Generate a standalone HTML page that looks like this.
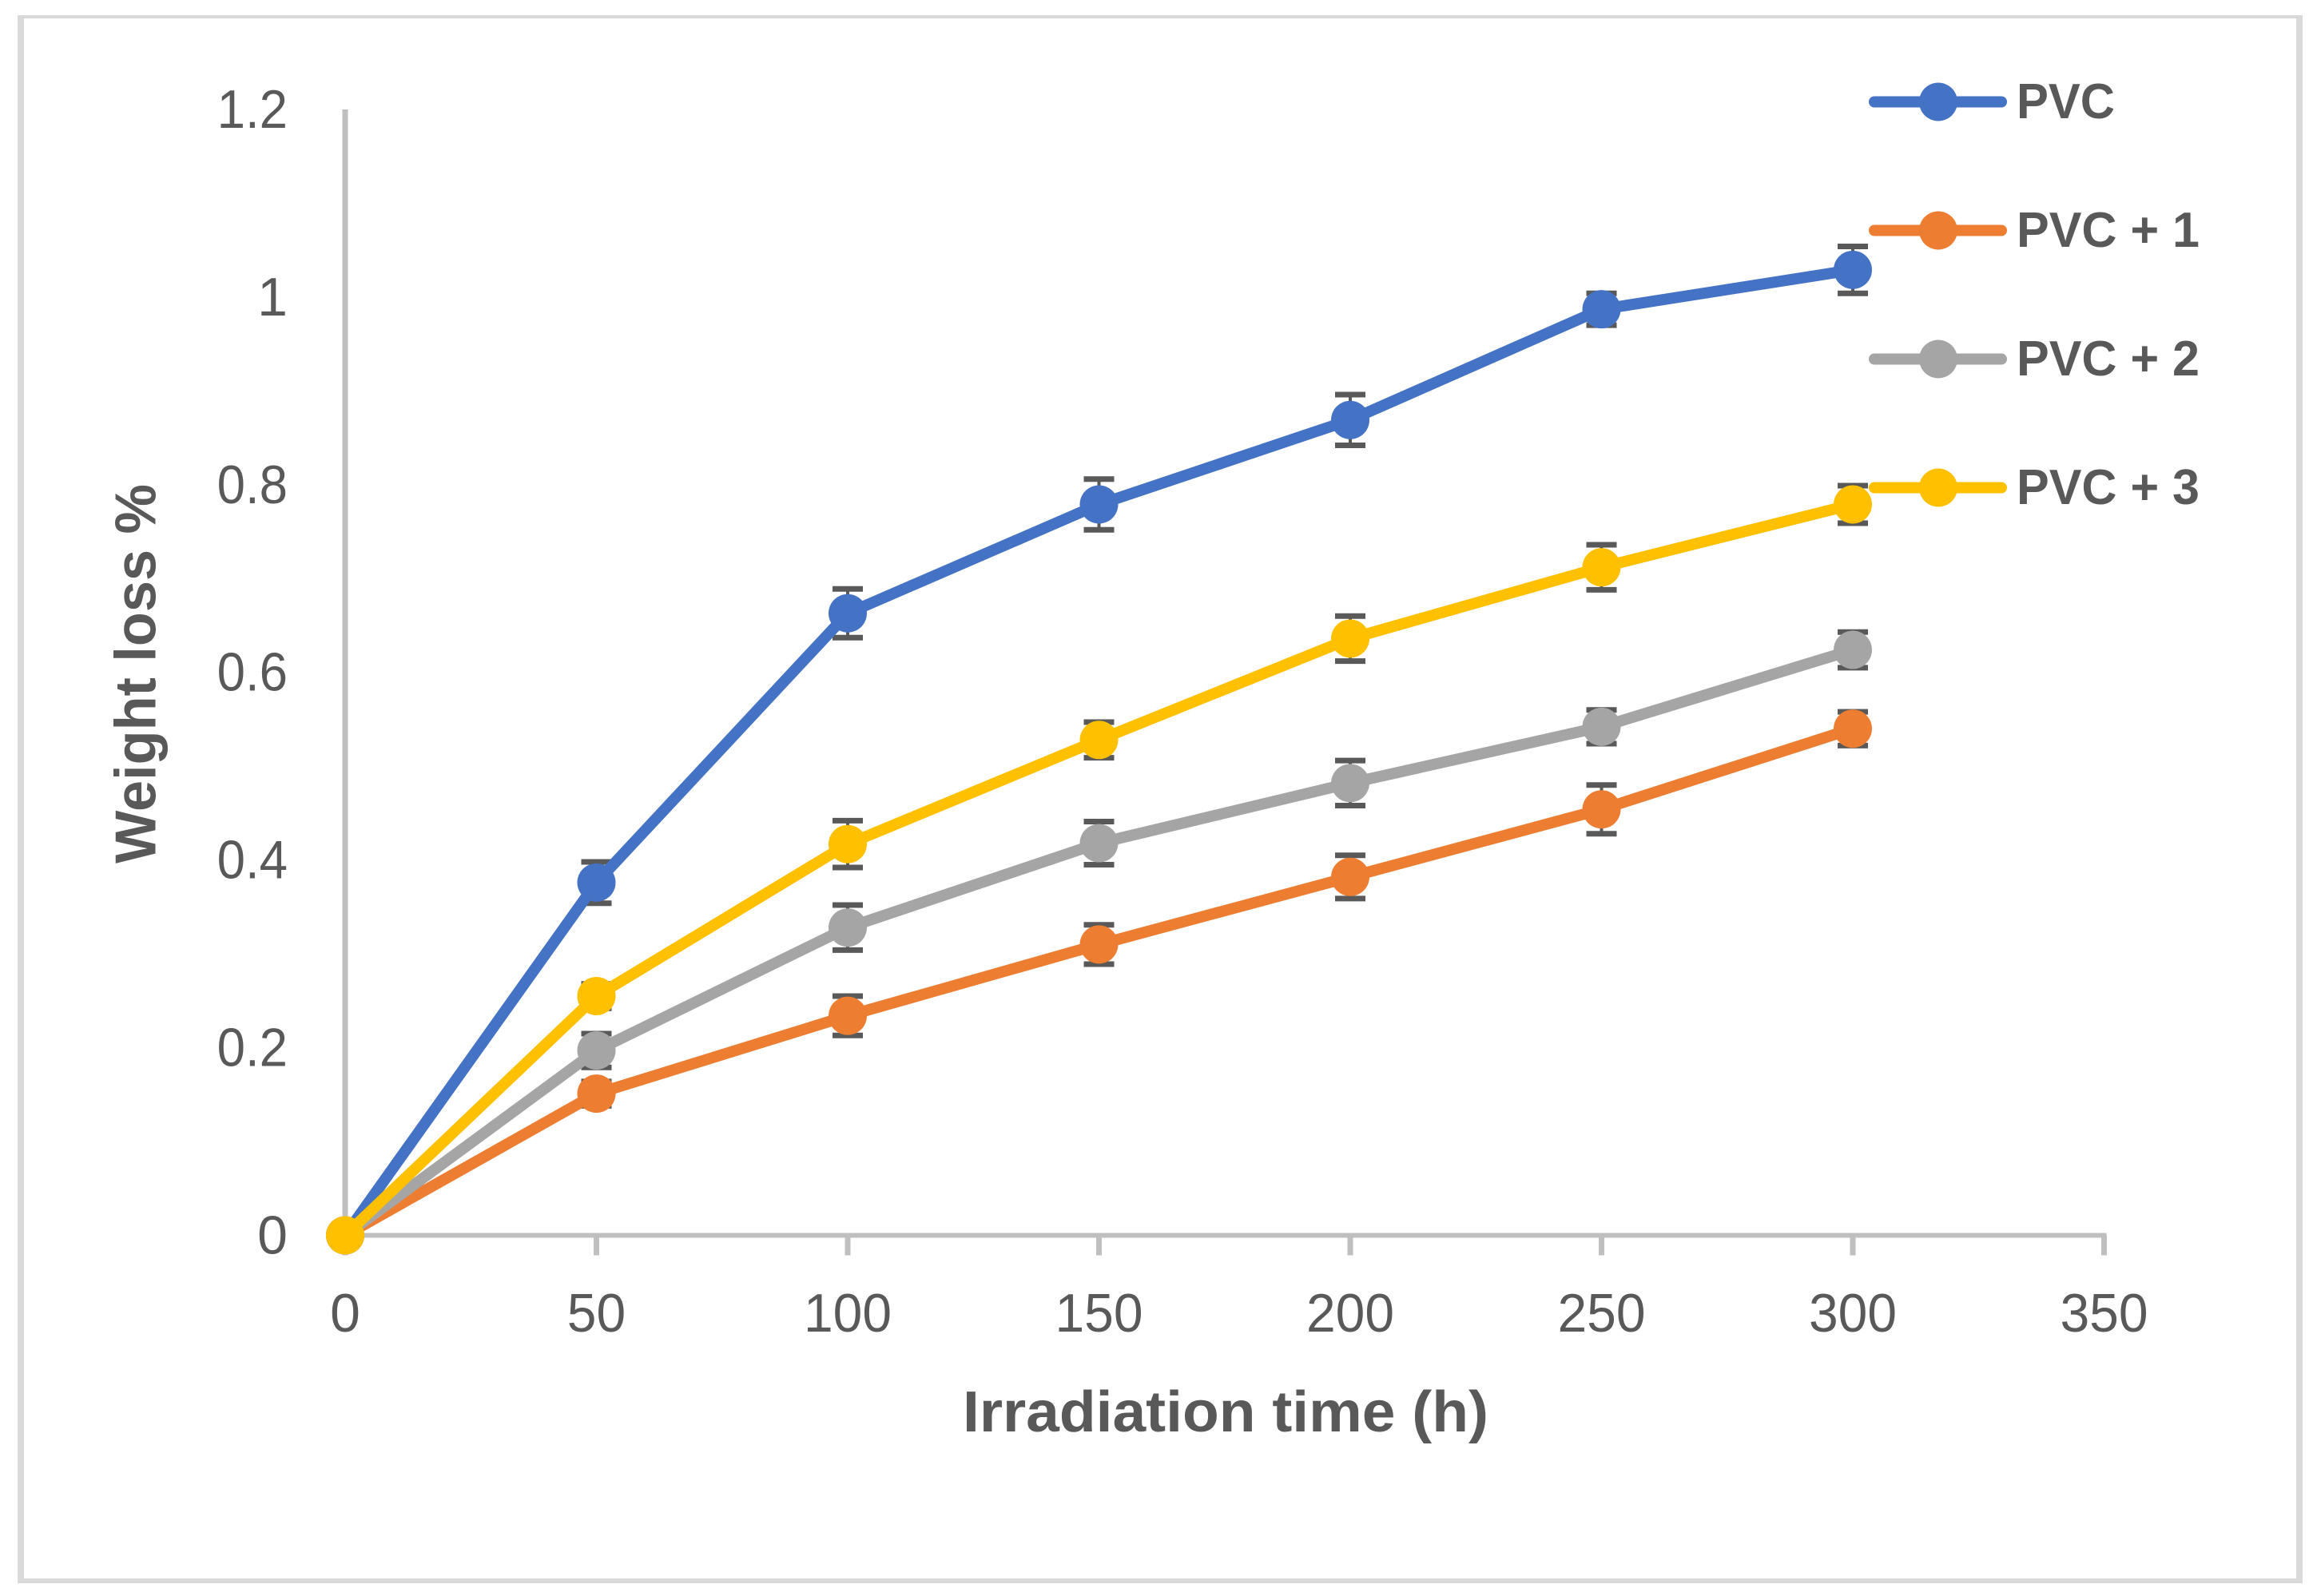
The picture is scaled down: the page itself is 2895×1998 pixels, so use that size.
<!DOCTYPE html>
<html lang="en">
<head>
<meta charset="utf-8">
<title>Weight loss % vs irradiation time</title>
<style>
  html, body { margin: 0; padding: 0; background: #ffffff; }
  svg { display: block; }
  text { font-family: "Liberation Sans", sans-serif; fill: #595959; }
  .bold { font-weight: bold; }
</style>
</head>
<body>
<svg id="chart" xmlns="http://www.w3.org/2000/svg" width="2895" height="1998" viewBox="0 0 2895 1998">
  <rect x="0" y="0" width="2895" height="1998" fill="#ffffff"/>
  <g fill="#D9D9D9">
    <rect x="22" y="19" width="2860" height="4"/>
    <rect x="22" y="1976" width="2860" height="6"/>
    <rect x="22" y="19" width="8" height="1963"/>
    <rect x="2874" y="19" width="8" height="1963"/>
  </g>
  <g id="axes"></g>
  <text class="bold" x="1534" y="1792" font-size="72" text-anchor="middle" textLength="658" lengthAdjust="spacingAndGlyphs">Irradiation time (h)</text>
  <text class="bold" transform="translate(194.5 843.5) rotate(-90)" x="0" y="0" font-size="72" text-anchor="middle" textLength="475" lengthAdjust="spacingAndGlyphs">Weight loss %</text>
  <g id="series"></g>
  <g id="legend">
    <g>
      <line x1="2346" x2="2505" y1="127.5" y2="127.5" stroke="#4472C4" stroke-width="14" stroke-linecap="round"/>
      <circle cx="2426" cy="127.5" r="24" fill="#4472C4"/>
      <text x="2524" y="148" font-size="62" class="bold" textLength="123" lengthAdjust="spacingAndGlyphs">PVC</text>
    </g>
    <g>
      <line x1="2346" x2="2505" y1="288.5" y2="288.5" stroke="#ED7D31" stroke-width="14" stroke-linecap="round"/>
      <circle cx="2426" cy="288.5" r="24" fill="#ED7D31"/>
      <text x="2524" y="309" font-size="62" class="bold" textLength="229" lengthAdjust="spacingAndGlyphs">PVC + 1</text>
    </g>
    <g>
      <line x1="2346" x2="2505" y1="449.5" y2="449.5" stroke="#A5A5A5" stroke-width="14" stroke-linecap="round"/>
      <circle cx="2426" cy="449.5" r="24" fill="#A5A5A5"/>
      <text x="2524" y="470" font-size="62" class="bold" textLength="229" lengthAdjust="spacingAndGlyphs">PVC + 2</text>
    </g>
    <g>
      <line x1="2346" x2="2505" y1="610.5" y2="610.5" stroke="#FFC000" stroke-width="14" stroke-linecap="round"/>
      <circle cx="2426" cy="610.5" r="24" fill="#FFC000"/>
      <text x="2524" y="631" font-size="62" class="bold" textLength="229" lengthAdjust="spacingAndGlyphs">PVC + 3</text>
    </g>
  </g>
</svg>
<script>
const irradiationHours = [0, 50, 100, 150, 200, 250, 300];
const pvcValues = [0, 0.376, 0.663, 0.779, 0.869, 0.987, 1.029];
const pvcPlus1Values = [0, 0.151, 0.234, 0.310, 0.382, 0.454, 0.540];
const pvcPlus2Values = [0, 0.197, 0.328, 0.418, 0.482, 0.542, 0.624];
const pvcPlus3Values = [0, 0.255, 0.417, 0.528, 0.636, 0.712, 0.779];
const pvcErrors = [0, 0.022, 0.026, 0.027, 0.027, 0.017, 0.025];
const pvcPlus1Errors = [0, 0.013, 0.021, 0.021, 0.023, 0.026, 0.018];
const pvcPlus2Errors = [0, 0.018, 0.024, 0.023, 0.024, 0.018, 0.019];
const pvcPlus3Errors = [0, 0.013, 0.025, 0.019, 0.024, 0.024, 0.020];
const xTickValues = [0, 50, 100, 150, 200, 250, 300, 350];
const yTickValues = [0, 0.2, 0.4, 0.6, 0.8, 1, 1.2];

const SVG_NS = 'http://www.w3.org/2000/svg';
const X_ORIGIN = 432, X_PER_HOUR = 6.29;
const Y_ORIGIN = 1546.5, Y_PER_UNIT = 1174.6;
function xScale(v) { return X_ORIGIN + v * X_PER_HOUR; }
function yScale(v) { return Y_ORIGIN - v * Y_PER_UNIT; }

function make(tag, attrs, parent) {
  const el = document.createElementNS(SVG_NS, tag);
  for (const k in attrs) { el.setAttribute(k, attrs[k]); }
  parent.appendChild(el);
  return el;
}

function tickWidth(text) {
  let w = 0;
  for (const ch of text) { w += ch === '.' ? 15 : 36.7; }
  return w;
}

const axes = document.getElementById('axes');
const yMax = yTickValues[yTickValues.length - 1];
const xMax = xTickValues[xTickValues.length - 1];

const yAxisLine = make('line', { x1: xScale(0), x2: xScale(0), y1: yScale(yMax), y2: yScale(0) + 3, stroke: '#BFBFBF', 'stroke-width': 7 }, axes);



const xAxisLine = make('line', { x1: xScale(0), x2: xScale(xMax) + 3, y1: yScale(0), y2: yScale(0), stroke: '#BFBFBF', 'stroke-width': 6 }, axes);



xTickValues.forEach(function (t) {
  const tick = make('line', { x1: xScale(t), x2: xScale(t), y1: yScale(0), y2: yScale(0) + 25, stroke: '#BFBFBF', 'stroke-width': 7 }, axes);
  
  
  const text = String(t);
  const attrs = { x: xScale(t), y: 1667, 'font-size': 68, 'text-anchor': 'middle' };
  if (text.length > 1) { attrs.textLength = tickWidth(text); attrs.lengthAdjust = 'spacingAndGlyphs'; }
  const label = make('text', attrs, axes);
  
  
  label.textContent = text;
});

yTickValues.forEach(function (v) {
  const text = String(v);
  const attrs = { x: 360, y: yScale(v) + 23, 'font-size': 68, 'text-anchor': 'end' };
  if (text.length > 1) { attrs.textLength = tickWidth(text); attrs.lengthAdjust = 'spacingAndGlyphs'; }
  const label = make('text', attrs, axes);
  
  
  label.textContent = text;
});

const seriesRoot = document.getElementById('series');

function drawSeries(key, values, errors, color) {
  const group = make('g', {}, seriesRoot);
  
  

  irradiationHours.forEach(function (t, i) {
    if (errors[i] <= 0) { return; }
    const cx = xScale(t);
    const top = yScale(values[i] + errors[i]);
    const bottom = yScale(values[i] - errors[i]);
    const bar = make('g', { stroke: '#595959' }, group);
    
    
    make('line', { x1: cx, x2: cx, y1: top, y2: bottom, 'stroke-width': 4 }, bar);
    make('line', { x1: cx - 19, x2: cx + 19, y1: top, y2: top, 'stroke-width': 7 }, bar);
    make('line', { x1: cx - 19, x2: cx + 19, y1: bottom, y2: bottom, 'stroke-width': 7 }, bar);
  });

  const points = irradiationHours.map(function (t, i) { return xScale(t) + ',' + yScale(values[i]); }).join(' ');
  const line = make('polyline', { points: points, fill: 'none', stroke: color, 'stroke-width': 14, 'stroke-linejoin': 'round', 'stroke-linecap': 'round' }, group);
  
  

  irradiationHours.forEach(function (t, i) {
    const dot = make('circle', { cx: xScale(t), cy: yScale(values[i]), r: 24, fill: color }, group);
    
    
  });
}

drawSeries('pvc', pvcValues, pvcErrors, '#4472C4');
drawSeries('pvc-1', pvcPlus1Values, pvcPlus1Errors, '#ED7D31');
drawSeries('pvc-2', pvcPlus2Values, pvcPlus2Errors, '#A5A5A5');
drawSeries('pvc-3', pvcPlus3Values, pvcPlus3Errors, '#FFC000');
</script>
</body>
</html>
